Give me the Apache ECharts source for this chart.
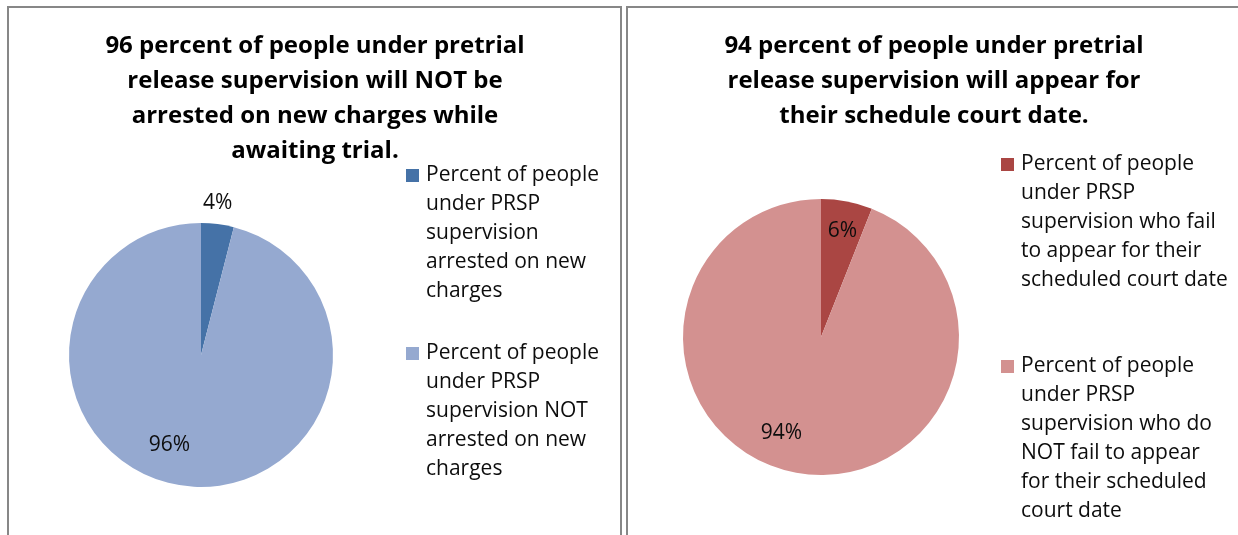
<!DOCTYPE html>
<html>
<head>
<meta charset="utf-8">
<title>PRSP pretrial release outcomes</title>
<script src="https://cdn.jsdelivr.net/npm/echarts@6/dist/echarts.min.js"></script>
<style>
  html, body { margin: 0; padding: 0; background: #fff; }
  #chart { width: 1238px; height: 535px; }
</style>
</head>
<body>
<div id="chart"></div>
<script>
// Arrests on new charges while awaiting trial
const arrestTitle = '96 percent of people under pretrial\nrelease supervision will NOT be\narrested on new charges while\nawaiting trial.';
const arrestCategories = [
  'Percent of people\nunder PRSP\nsupervision\narrested on new\ncharges',
  'Percent of people\nunder PRSP\nsupervision NOT\narrested on new\ncharges'
];
const arrestValues = [4, 96];

// Appearance for scheduled court dates
const appearTitle = '94 percent of people under pretrial\nrelease supervision will appear for\ntheir schedule court date.';
const appearCategories = [
  'Percent of people\nunder PRSP\nsupervision who fail\nto appear for their\nscheduled court date',
  'Percent of people\nunder PRSP\nsupervision who do\nNOT fail to appear\nfor their scheduled\ncourt date'
];
const appearValues = [6, 94];

const arrestColors = ['#4572A7', '#95A9D0'];
const appearColors = ['#AA4643', '#D39190'];

const FONT = '"Open Sans", "Noto Sans", sans-serif';
const LINE = 29;

// label nudges so percentages sit where the pie's best-fit placement puts them
const arrestLabelOffsets = [[8, -84], [-23, 22]];
const appearLabelOffsets = [[8, -35], [-26, 25]];

function buildData(names, values, colors, offsets) {
  return names.map((n, i) => ({
    name: n,
    value: values[i],
    itemStyle: { color: colors[i] },
    label: { offset: offsets[i] }
  }));
}

// legend marker: a square aligned with the first text line of a tall item box
function markerPath(boxH) {
  return 'path://M0,8h13v13h-13zM0,0h0M15,' + boxH + 'h0';
}

const chart = echarts.init(document.getElementById('chart'), null, { renderer: 'canvas' });

const titleStyle = {
  fontFamily: FONT, fontSize: 24, fontWeight: 'bold', color: '#000', lineHeight: 35
};
const legendText = { fontFamily: FONT, fontSize: 21, color: '#0d0d0d', lineHeight: LINE };
const pieLabel = {
  show: true, position: 'inside', formatter: '{c}%',
  fontFamily: FONT, fontSize: 21, color: '#0d0d0d'
};

const appearLines = Math.max(...appearCategories.map(s => s.split('\n').length));
const arrestLines = Math.max(...arrestCategories.map(s => s.split('\n').length));

chart.setOption({
  animation: false,
  backgroundColor: '#fff',
  graphic: [
    { type: 'rect', shape: { x: 8, y: 7, width: 613, height: 540 },
      style: { fill: 'none', stroke: '#878787', lineWidth: 2 }, silent: true },
    { type: 'rect', shape: { x: 627, y: 7, width: 620, height: 540 },
      style: { fill: 'none', stroke: '#878787', lineWidth: 2 }, silent: true }
  ],
  title: [
    { text: arrestTitle, left: 315, top: 29, textAlign: 'center', padding: 0, textStyle: titleStyle },
    { text: appearTitle, left: 934, top: 29, textAlign: 'center', padding: 0, textStyle: titleStyle }
  ],
  legend: [
    {
      orient: 'vertical', left: 406, top: 161, padding: 0,
      itemWidth: 15, itemHeight: arrestLines * LINE, itemGap: 33,
      icon: markerPath(arrestLines * LINE),
      itemStyle: { borderWidth: 0 },
      data: arrestCategories,
      textStyle: legendText,
      selectedMode: false
    },
    {
      orient: 'vertical', left: 1001, top: 150, padding: 0,
      itemWidth: 15, itemHeight: appearLines * LINE, itemGap: 28,
      icon: markerPath(appearLines * LINE),
      itemStyle: { borderWidth: 0 },
      data: appearCategories,
      // pad shorter entries so every item box holds the same number of lines
      formatter: name => {
        const n = name.split('\n').length;
        return name + '\n '.repeat(appearLines - n);
      },
      textStyle: legendText,
      selectedMode: false
    }
  ],
  series: [
    {
      type: 'pie', center: [201, 355], radius: 132,
      startAngle: 90, clockwise: true,
      itemStyle: { borderWidth: 0 },
      label: pieLabel, labelLine: { show: false },
      emphasis: { disabled: true },
      data: buildData(arrestCategories, arrestValues, arrestColors, arrestLabelOffsets)
    },
    {
      type: 'pie', center: [821, 337], radius: 138,
      startAngle: 90, clockwise: true,
      itemStyle: { borderWidth: 0 },
      label: pieLabel, labelLine: { show: false },
      emphasis: { disabled: true },
      data: buildData(appearCategories, appearValues, appearColors, appearLabelOffsets)
    }
  ]
});
</script>
</body>
</html>
